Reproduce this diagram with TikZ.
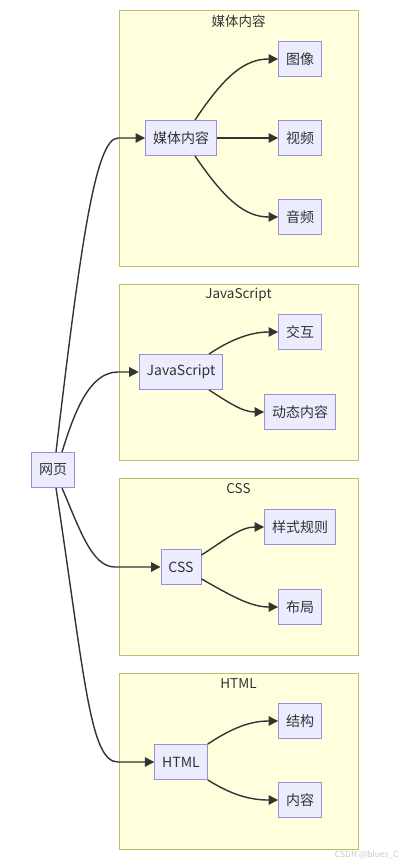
\documentclass[tikz,border=0pt]{standalone}
\usepackage{fontspec}
\setmainfont{Noto Sans CJK SC}
\usetikzlibrary{arrows.meta}
\definecolor{clfill}{HTML}{FFFFDE}
\definecolor{cldraw}{HTML}{BFBF6A}
\definecolor{ndfill}{HTML}{ECECFF}
\definecolor{nddraw}{HTML}{A08CDC}
\definecolor{txt}{HTML}{333333}
\definecolor{wm}{HTML}{C8C8C8}
\tikzset{
  cluster/.style={draw=cldraw, fill=clfill, line width=0.9pt, minimum width=239pt, inner sep=0pt},
  cltitle/.style={text=txt, font=\fontsize{13.5}{15}\selectfont, inner sep=0pt},
  box/.style={draw=nddraw, fill=ndfill, line width=0.9pt, text=txt, minimum height=35pt, inner xsep=7.5pt, inner ysep=0pt, font=\fontsize{14}{16}\selectfont},
  edge/.style={draw=txt, line width=1.4pt, -{Triangle[length=9.5pt,width=9.5pt]}}
}
\begin{document}
\begin{tikzpicture}[x=1pt,y=-1pt]
\useasboundingbox[fill=white] (0,0) rectangle (401,866);
% clusters
\node[cluster, minimum height=256pt] (c1) at (238.5,138) {};
\node[cltitle] (t1) at (238.5,21) {媒体内容};
\node[cluster, minimum height=176pt] (c2) at (238.5,372) {};
\node[cltitle] (t2) at (238.5,295) {JavaScript};
\node[cluster, minimum height=177pt] (c3) at (238.5,566.5) {};
\node[cltitle] (t3) at (238.5,489) {CSS};
\node[cluster, minimum height=176pt] (c4) at (238.5,761) {};
\node[cltitle] (t4) at (238.5,684) {HTML};
% nodes
\node[box] (web) at (53,470) {网页};
\node[box] (media) at (181,138) {媒体内容};
\node[box] (img) at (300,59) {图像};
\node[box] (video) at (300,138) {视频};
\node[box] (audio) at (300,217) {音频};
\node[box] (js) at (181,372) {JavaScript};
\node[box] (inter) at (300,332) {交互};
\node[box] (dyn) at (300,412) {动态内容};
\node[box] (css) at (181,567) {CSS};
\node[box] (style) at (300,527) {样式规则};
\node[box] (layout) at (300,607) {布局};
\node[box] (html) at (181,762) {HTML};
\node[box] (struct) at (300,721) {结构};
\node[box] (content) at (300,800) {内容};
% edges from 网页
\draw[edge] ([xshift=3pt]web.north) .. controls (80,250) and (95,138) .. (118,138) -- (media.west);
\draw[edge] ([xshift=9pt]web.north) .. controls (75,410) and (90,372) .. (118,372) -- (js.west);
\draw[edge] ([xshift=9pt]web.south) .. controls (80,530) and (92,567) .. (115,567) -- (css.west);
\draw[edge] ([xshift=3pt]web.south) .. controls (85,680) and (90,762) .. (118,762) -- (html.west);
% inner edges
\draw[edge] ([xshift=14pt]media.north) .. controls (225,75) and (245,59) .. (img.west);
\draw[edge] (media.east) -- (video.west);
\draw[edge] ([xshift=14pt]media.south) .. controls (225,200) and (245,217) .. (audio.west);
\draw[edge] ([xshift=28pt]js.north) .. controls (230,340) and (250,332) .. (inter.west);
\draw[edge] ([xshift=28pt]js.south) .. controls (228,402) and (242,412) .. (dyn.west);
\draw[edge] ([yshift=-6pt]css.north east) .. controls (225,540) and (240,527) .. (style.west);
\draw[edge] ([yshift=6pt]css.south east) .. controls (230,595) and (250,607) .. (layout.west);
\draw[edge] (html.north east) .. controls (232,728) and (250,721) .. (struct.west);
\draw[edge] (html.south east) .. controls (232,795) and (250,800) .. (content.west);
% watermark
\node[text=wm, font=\fontsize{8.5}{10}\selectfont, anchor=east, inner sep=0pt] (wmk) at (399,855) {CSDN @blues\_C};
\end{tikzpicture}
\end{document}
